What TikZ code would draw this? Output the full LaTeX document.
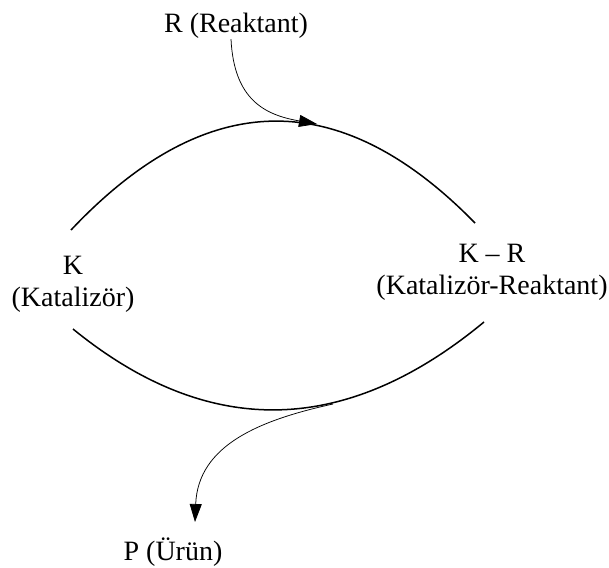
\documentclass[tikz,border=0pt]{standalone}
\usepackage{fontspec}
\setmainfont{Liberation Serif}
\usetikzlibrary{arrows.meta}

\begin{document}
\begin{tikzpicture}[x=1pt,y=-1pt,
        lbl/.style={font=\fontsize{28}{32}\selectfont, align=center, inner sep=0pt},
        cyc/.style={line width=1.5pt},
        feed/.style={line width=0.75pt, -{Triangle[length=18pt,width=12pt]}}]
    \useasboundingbox (0,0) rectangle (609,567);

    \node[lbl, anchor=base] (reactant) at (236,33) {R (Reaktant)};
    \node[lbl, anchor=base] (cat) at (73,306) {K\\(Katalizör)};
    \node[lbl, anchor=base] (complex) at (492,294) {K – R\\(Katalizör-Reaktant)};
    \node[lbl, anchor=base] (product) at (173,560) {P (Ürün)};

    \coordinate (topL) at (71,230);
    \coordinate (topR) at (475,223);
    \coordinate (botL) at (73,329);
    \coordinate (botR) at (484,322);
    \coordinate (rtip) at (317,124);
    \coordinate (pstart) at (333,404);
    \coordinate (ptip) at (195,522);

    % catalytic cycle
    \draw[cyc] (topL) .. controls (206,87) and (340,85) .. (topR);
    \draw[cyc] (botL) .. controls (208,439) and (345,437) .. (botR);

    % reactant in, product out
    \draw[feed] ([xshift=-5pt]reactant.south) .. controls (234,100) and (265,115) .. (rtip);
    \draw[feed] (pstart) .. controls (260,420) and (198,445) .. (ptip);
\end{tikzpicture}
\end{document}
